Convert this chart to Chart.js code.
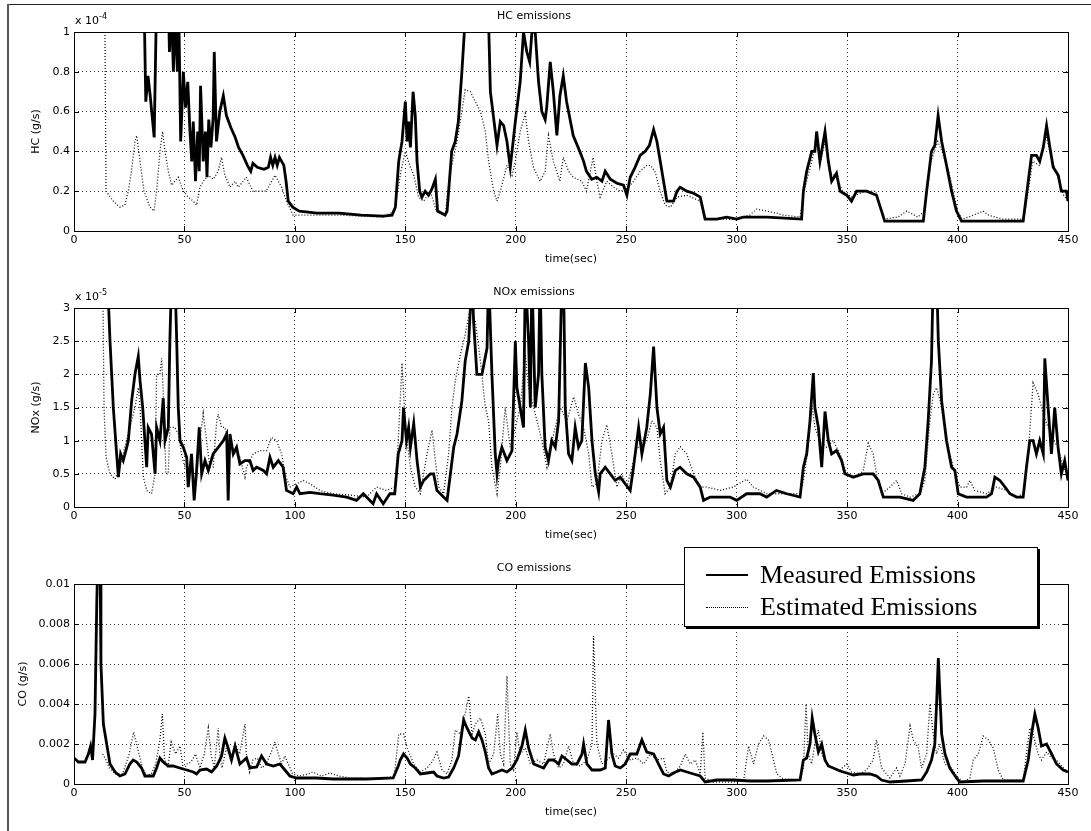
<!DOCTYPE html>
<html><head><meta charset="utf-8">
<script src="https://cdn.jsdelivr.net/npm/chart.js@4"></script>
<style>
html,body{margin:0;padding:0;background:#fff;}
body{width:1091px;height:831px;position:relative;overflow:hidden;font-family:"DejaVu Sans",Arial,sans-serif;}
canvas{position:absolute;left:0;}
.exp{position:absolute;left:75px;font-size:11px;line-height:13px;color:#000;white-space:nowrap;}
.exp sup{font-size:8px;position:relative;top:-5px;vertical-align:baseline;line-height:0;}
#frameTop{position:absolute;left:7px;right:0;top:4px;height:1px;background:#222;}
#frameLeft{position:absolute;left:7px;top:4px;width:2px;bottom:0;background:#555;}
#legend{position:absolute;left:684px;top:547px;width:352px;height:78px;border:1px solid #000;box-shadow:2px 2px 0 #000;background:#fff;font-family:"Liberation Serif","Times New Roman",serif;font-size:26px;line-height:26px;color:#000;}
#legend .txt{position:absolute;left:75px;white-space:nowrap;}
#legend .ln{position:absolute;left:21px;width:42px;height:0;}
</style></head><body>
<div id="frameTop"></div><div id="frameLeft"></div>
<canvas id="c1" width="1091" height="266" style="top:0px"></canvas>
<canvas id="c2" width="1091" height="266" style="top:276px"></canvas>
<canvas id="c3" width="1091" height="267" style="top:552px"></canvas>
<div class="exp" style="top:14px">x 10<sup>-4</sup></div>
<div class="exp" style="top:290px">x 10<sup>-5</sup></div>
<div id="legend">
  <div class="ln" style="top:26px;border-top:2px solid #000;"></div>
  <div class="txt" style="top:14px">Measured Emissions</div>
  <div class="ln" style="top:59px;border-top:1px dotted #000;"></div>
  <div class="txt" style="top:46px">Estimated Emissions</div>
</div>
<script>
// time axis ticks (sec)
const timeTicks = [0, 50, 100, 150, 200, 250, 300, 350, 400, 450];
const seriesNames = ['Measured Emissions', 'Estimated Emissions'];

// HC emissions, values in units of 1e-4 g/s : [time, value]
const hcMeasured = [[31.5,1.3],[32.5,0.65],[33.5,0.78],[34.5,0.68],[36.3,0.47],[37.2,1.05],[38.6,1.02],[39.5,1.3],[42.7,1.2],[43.2,0.9],[44.2,1.1],[45,0.8],[45.8,1.1],[46.8,0.8],[47.5,1.05],[48.3,0.45],[49.5,0.8],[50.5,0.62],[51.5,0.75],[52.5,0.5],[53.3,0.35],[54,0.55],[55,0.25],[56,0.5],[56.7,0.3],[57.3,0.73],[58.5,0.35],[59.5,0.5],[60.2,0.27],[61,0.56],[62,0.42],[63,0.57],[63.5,0.9],[64.5,0.45],[66,0.6],[67.6,0.68],[69,0.58],[71,0.52],[73,0.47],[74.5,0.42],[76.5,0.38],[78.5,0.33],[80,0.3],[81,0.34],[83,0.32],[86,0.31],[88,0.32],[89,0.37],[90,0.33],[91,0.37],[92,0.33],[93,0.37],[95,0.33],[96,0.25],[97,0.15],[99,0.12],[102,0.1],[110,0.09],[120,0.09],[130,0.08],[140,0.075],[144,0.08],[145.5,0.12],[147,0.35],[148.5,0.45],[150,0.65],[150.8,0.45],[151.5,0.55],[152.3,0.42],[153.5,0.7],[154.5,0.58],[155.3,0.35],[156.5,0.2],[157.5,0.17],[159,0.2],[160.5,0.18],[162,0.21],[163.6,0.26],[164.6,0.1],[168,0.08],[168.9,0.1],[171,0.4],[172.6,0.45],[174,0.55],[175.6,0.8],[177,1.05],[180,1.3],[185,1.3],[187.7,1.05],[188.5,0.7],[191.5,0.43],[193,0.55],[194.5,0.53],[196,0.45],[197.5,0.32],[199.8,0.55],[202,0.75],[203.5,1.0],[205,0.9],[206.3,0.85],[207.3,1.0],[208.8,1.0],[210.3,0.75],[211.8,0.6],[213.3,0.56],[214,0.62],[215.6,0.85],[217,0.7],[218.6,0.48],[220,0.68],[221.5,0.78],[223,0.65],[226,0.48],[229,0.4],[230.7,0.35],[232,0.3],[234.4,0.26],[236.7,0.27],[239,0.25],[240.5,0.3],[242.8,0.26],[245.8,0.24],[248.8,0.23],[250.3,0.18],[251.8,0.27],[254,0.32],[256.3,0.38],[258.6,0.4],[260.5,0.43],[262.4,0.51],[263.9,0.45],[265.4,0.35],[266.9,0.25],[268.4,0.15],[271.4,0.15],[273,0.2],[274.4,0.22],[277.4,0.2],[280.5,0.19],[283.5,0.17],[285.7,0.06],[291,0.06],[295.5,0.07],[300,0.06],[303,0.07],[313.7,0.07],[329.4,0.06],[330.2,0.2],[331.7,0.3],[334,0.4],[335.4,0.4],[336.2,0.5],[337.7,0.35],[340,0.5],[341.5,0.35],[343,0.25],[345.2,0.29],[346.8,0.2],[349.8,0.18],[352,0.15],[354.3,0.2],[358.8,0.2],[363.3,0.18],[365.6,0.1],[367,0.05],[373.9,0.05],[384.5,0.05],[386,0.2],[388.2,0.4],[389.7,0.43],[391.2,0.58],[392.8,0.45],[395,0.33],[397.3,0.2],[399.5,0.1],[401.8,0.05],[407,0.05],[419,0.05],[429.7,0.05],[432,0.25],[433.5,0.38],[435.7,0.38],[437.2,0.35],[438.8,0.42],[440.3,0.53],[441.8,0.42],[443.3,0.32],[445.6,0.28],[447,0.2],[449.3,0.2],[450,0.15]];
const hcEstimated = [[14,1.0],[14.5,0.2],[17.8,0.15],[20.8,0.12],[23,0.13],[24.6,0.2],[26,0.3],[27.6,0.45],[28.4,0.48],[29.9,0.35],[31.7,0.2],[34.4,0.12],[36.2,0.1],[37.4,0.2],[38.9,0.4],[40.1,0.5],[41.2,0.4],[42.7,0.3],[44.2,0.23],[45.7,0.25],[47.2,0.27],[49.5,0.2],[51.7,0.17],[54,0.15],[55.5,0.13],[57,0.22],[58.5,0.25],[60.8,0.28],[63,0.26],[65.3,0.3],[66.8,0.37],[68.3,0.28],[70.6,0.22],[72.9,0.25],[74.4,0.22],[78,0.27],[81,0.2],[87,0.2],[91,0.28],[94,0.22],[96.2,0.15],[99.2,0.08],[102,0.08],[110,0.08],[120,0.08],[130,0.075],[140,0.07],[145,0.1],[148,0.3],[150,0.4],[152,0.33],[153.8,0.28],[156,0.17],[158.3,0.15],[161.3,0.2],[164,0.1],[168,0.08],[170.4,0.3],[173.4,0.45],[175.6,0.6],[177.1,0.71],[179.4,0.7],[181.7,0.65],[184,0.6],[186.2,0.5],[187.7,0.35],[190,0.2],[191.5,0.15],[193,0.2],[196,0.33],[198.3,0.28],[199.8,0.35],[202,0.5],[204.3,0.59],[205.8,0.45],[208,0.32],[211,0.25],[213.3,0.3],[214.8,0.48],[217,0.35],[220,0.25],[221.5,0.37],[223.9,0.3],[226,0.27],[229.9,0.25],[232,0.2],[235,0.37],[236.7,0.25],[238.2,0.17],[241.2,0.25],[244.3,0.22],[247.3,0.2],[250.3,0.21],[253.3,0.25],[256.3,0.3],[259.3,0.33],[260.9,0.33],[263,0.3],[265.4,0.2],[267.6,0.13],[270,0.12],[273,0.17],[277.4,0.18],[283.5,0.15],[285.7,0.06],[298.5,0.06],[306,0.08],[309,0.11],[313.7,0.1],[318,0.09],[321,0.08],[328.7,0.07],[330.5,0.2],[334,0.35],[336,0.45],[338,0.35],[340,0.45],[342,0.3],[345,0.27],[348,0.2],[352,0.17],[358,0.2],[363,0.2],[365,0.12],[367,0.06],[373,0.07],[377,0.1],[382,0.07],[385,0.1],[388,0.35],[391,0.45],[393,0.4],[396,0.3],[400,0.1],[402,0.06],[405,0.07],[411.6,0.1],[414,0.08],[420,0.06],[430,0.06],[432,0.2],[434,0.35],[437,0.33],[440,0.48],[443,0.35],[446,0.25],[448,0.18],[450,0.15]];

// NOx emissions, values in units of 1e-5 g/s : [time, value]
const noxMeasured = [[15.1,3.5],[16.3,2.5],[17.8,1.5],[19.3,0.8],[20.1,0.45],[21.1,0.8],[22.3,0.7],[23.5,0.85],[24.6,1.0],[26.1,1.6],[27.6,2.0],[29.1,2.27],[29.9,1.9],[31.1,1.5],[32.1,1.0],[32.9,0.6],[33.6,1.2],[35.1,1.1],[36.7,0.5],[37.4,1.2],[38.9,1.0],[40.4,1.64],[41.2,1.0],[42.7,1.2],[43.4,2.5],[44.2,3.5],[45.7,3.5],[46.5,2.5],[47.2,1.5],[48,1.0],[49.5,0.9],[51,0.75],[51.7,0.3],[53.2,0.8],[54.4,0.1],[55.5,0.55],[56.7,1.2],[57.8,0.5],[59.3,0.7],[60.8,0.55],[63,0.8],[65.3,0.9],[67.6,1.0],[69.1,1.1],[69.8,0.1],[70.6,1.1],[72.1,0.8],[73.6,0.9],[75.1,0.65],[77.4,0.7],[79.6,0.7],[81.1,0.55],[82.7,0.6],[85.7,0.55],[87.2,0.5],[88.7,0.75],[90.2,0.6],[92.5,0.7],[94.7,0.6],[96.2,0.25],[99.2,0.2],[100.8,0.3],[102.3,0.2],[106.8,0.22],[111.3,0.2],[117.3,0.18],[123.4,0.15],[127.9,0.1],[131,0.2],[135.4,0.05],[137,0.2],[140,0.05],[143,0.2],[145.2,0.2],[146.8,0.8],[148.5,1.0],[149.2,1.5],[150.5,1.0],[151.5,1.2],[152.3,0.9],[153.8,1.26],[155.3,0.7],[156.8,0.3],[158.3,0.4],[159.8,0.45],[161.3,0.5],[162.8,0.5],[164.3,0.25],[167.3,0.15],[168.9,0.1],[170.4,0.5],[171.9,0.9],[173.4,1.1],[175.6,1.6],[177.1,2.2],[178.7,2.5],[180.2,3.5],[180.9,2.8],[182.4,2.0],[184.7,2.0],[187,2.4],[187.7,3.5],[189.2,2.0],[190.7,0.8],[191.5,0.5],[192.2,0.7],[193.7,0.9],[196,0.7],[198.3,0.85],[199.8,2.5],[200.5,1.8],[202,1.5],[203.5,1.2],[204.3,3.5],[205.8,2.5],[206.6,1.5],[207.3,3.5],[208.8,1.5],[210.3,2.0],[211,3.5],[211.8,2.0],[213.3,0.9],[214.8,0.7],[216.3,1.0],[217.9,0.9],[219.4,1.3],[220.9,3.5],[221.6,3.5],[222.4,1.5],[223.9,0.8],[225.4,0.7],[226.9,1.2],[228.4,0.9],[229.9,1.0],[231.5,2.17],[233,1.8],[234.5,1.0],[236,0.5],[237.5,0.23],[238.2,0.5],[240.5,0.6],[242.8,0.5],[245,0.4],[247.3,0.45],[249.5,0.35],[251.8,0.25],[253.3,0.6],[255.6,1.2],[257.1,0.8],[259.3,1.2],[260.9,1.7],[262.4,2.42],[263.9,1.5],[265.4,1.1],[266.9,1.2],[268.4,0.4],[270,0.3],[272.2,0.55],[274.4,0.6],[277.4,0.5],[280.5,0.45],[283.5,0.3],[285,0.1],[288,0.15],[292.5,0.15],[297,0.15],[300,0.1],[304.5,0.2],[310.5,0.2],[313.6,0.15],[318,0.25],[322.7,0.2],[328.7,0.15],[330.2,0.6],[331.7,0.8],[333.2,1.3],[334.7,2.02],[335.4,1.5],[337,1.2],[338.5,0.6],[340,1.44],[341.5,1.0],[343,0.8],[345.2,0.85],[347.5,0.7],[349,0.5],[352.8,0.45],[357.3,0.5],[361.8,0.5],[364.1,0.4],[366.4,0.15],[373.9,0.15],[379.9,0.1],[382.9,0.2],[385.2,0.6],[386.7,1.3],[388.2,2.2],[389,3.5],[390.5,3.5],[391.3,2.5],[392.8,1.6],[395,1.0],[397.3,0.6],[398.8,0.55],[400.3,0.2],[404,0.15],[408.6,0.15],[413.1,0.15],[415.4,0.2],[416.9,0.45],[419.2,0.4],[421.5,0.3],[423.7,0.2],[426.7,0.15],[429.7,0.15],[431.2,0.6],[432.7,1.0],[434.2,1.0],[435.7,0.8],[437.2,1.0],[438.8,0.8],[439.5,2.24],[441,1.5],[442.5,0.8],[444,1.5],[445.5,0.9],[447,0.5],[448.5,0.7],[450,0.4]];
const noxEstimated = [[13,3.5],[13.6,1.5],[14.5,0.75],[16.3,0.5],[18.6,0.42],[20.8,0.6],[23,0.9],[25.3,1.2],[27.6,1.5],[29.1,1.8],[29.9,1.5],[31.4,0.45],[32.9,0.25],[35.1,0.2],[36.7,0.5],[37.4,2.0],[38.9,2.0],[39.7,2.24],[40.7,1.5],[41.6,0.5],[42.7,0.5],[43.4,1.2],[45.7,1.2],[47.2,1.1],[48.7,0.8],[50.2,0.6],[51.7,0.55],[53.2,0.5],[55.5,0.45],[57,1.0],[58.5,1.41],[60,1.0],[61.5,0.6],[63,0.6],[64.6,1.3],[65.3,1.4],[66.8,1.2],[68.3,1.2],[70.6,0.9],[72.9,0.8],[75.1,0.75],[77.4,0.45],[78.1,0.6],[81.1,0.8],[84.2,0.85],[87.2,0.85],[89.4,1.05],[91.7,1.0],[94,0.8],[95.5,0.5],[97.7,0.3],[100.8,0.35],[103.8,0.4],[106.8,0.35],[111.3,0.25],[117.3,0.2],[124.9,0.18],[132.4,0.15],[137,0.3],[141.5,0.25],[145.2,0.3],[146.8,1.0],[148.5,2.17],[150,1.2],[152.3,0.6],[154.5,0.3],[156.8,0.2],[158.3,0.5],[159.8,0.8],[162.1,1.16],[163.6,0.7],[165.1,0.3],[167.3,0.2],[169.6,0.8],[171.1,1.5],[172.6,1.9],[174.9,2.3],[177.1,2.6],[179.4,3.0],[181.7,2.8],[184,2.2],[186.2,1.5],[187.7,1.3],[189.2,0.6],[191.5,0.2],[193,0.6],[195.2,1.5],[197.5,0.9],[199.8,1.2],[202,1.5],[204.3,2.3],[205.8,1.8],[207.3,1.6],[209.6,1.3],[211.8,1.0],[214.1,0.6],[216.4,1.0],[218.6,1.3],[220.1,1.5],[223.2,1.3],[226.2,1.66],[228.4,1.4],[230.7,1.2],[233,0.8],[234.5,0.3],[236.7,0.35],[239,1.0],[241.2,1.24],[243.5,0.8],[245.8,0.3],[248,0.5],[250.3,0.3],[252.6,0.6],[254.9,0.9],[257.1,0.9],[259.3,1.0],[261.6,1.3],[263.9,1.2],[265.4,0.7],[267.6,0.2],[270,0.3],[272.2,0.8],[274.5,0.91],[277.4,0.8],[280.5,0.5],[283.5,0.3],[286.5,0.3],[292.5,0.25],[298.5,0.3],[304.5,0.42],[307.6,0.3],[313.7,0.2],[321.2,0.2],[328.7,0.2],[330.2,0.4],[332.4,0.9],[333.9,1.6],[335.4,1.2],[337.7,1.0],[340.7,0.9],[343.7,1.0],[346.8,0.8],[349.8,0.5],[354.3,0.45],[357.3,0.55],[359.6,0.96],[361.8,0.8],[363.3,0.5],[365.6,0.2],[369.4,0.3],[372.4,0.4],[374.7,0.2],[378.4,0.15],[383,0.2],[385.2,0.4],[387.5,1.3],[389,1.7],[390.5,1.8],[392.1,1.6],[394.3,1.2],[396.5,0.8],[398.8,0.5],[401.1,0.3],[404.1,0.3],[405.6,0.4],[407.8,0.25],[413.1,0.2],[417.6,0.3],[422.2,0.25],[426.7,0.15],[429.7,0.2],[432,0.8],[434.2,1.87],[436.5,1.7],[438.8,1.4],[441,1.2],[443.3,1.0],[445.6,0.9],[447.8,0.6],[450,0.5]];

// CO emissions, values in g/s : [time, value]
const coMeasured = [[0,0.0013],[2,0.0011],[5,0.0011],[6.5,0.0015],[7.5,0.0019],[8.4,0.0012],[9.5,0.0035],[10.3,0.009],[10.7,0.011],[11.8,0.011],[12.2,0.006],[13.3,0.003],[14.8,0.002],[16.3,0.001],[18.6,0.0006],[20.8,0.0004],[23.1,0.0005],[25.3,0.001],[26.8,0.0012],[28.4,0.0011],[30.6,0.0008],[32.1,0.0004],[35.9,0.0004],[37.4,0.0008],[38.9,0.0013],[40.4,0.0011],[42.7,0.0009],[44.9,0.0009],[47.9,0.0008],[51,0.0007],[54,0.0006],[55.5,0.0005],[57,0.0007],[60,0.00075],[62.3,0.0006],[64.6,0.0009],[66.8,0.0014],[68.3,0.0023],[69.8,0.0018],[71.3,0.0012],[72.9,0.0019],[75.1,0.001],[78.1,0.0013],[79.6,0.0008],[82.7,0.00085],[84.9,0.0014],[87.2,0.001],[90.2,0.0009],[93.2,0.001],[95.5,0.0007],[97.7,0.0004],[100.8,0.0003],[109.8,0.0003],[117.3,0.00025],[132.4,0.00025],[144.5,0.0003],[146.8,0.0009],[147.7,0.0012],[149.2,0.0015],[150.8,0.0013],[152.3,0.001],[154.5,0.0008],[156.8,0.0005],[159.8,0.00055],[162.8,0.0006],[164.3,0.0004],[167.3,0.0003],[169.6,0.00035],[171.9,0.0008],[174.1,0.0014],[176.4,0.0032],[177.9,0.0028],[180.2,0.0023],[181.7,0.0022],[183.2,0.0026],[184.7,0.0022],[186.2,0.0016],[187.7,0.0008],[189.2,0.0005],[191.5,0.0006],[193.7,0.0007],[196,0.0006],[198.3,0.0008],[200.5,0.0012],[202.8,0.0019],[204.3,0.0027],[205.8,0.0018],[208.1,0.001],[210.3,0.0009],[212.6,0.0008],[214.9,0.0012],[217.1,0.0012],[219.4,0.001],[220.9,0.0014],[223.2,0.0012],[225.4,0.001],[227.7,0.001],[230,0.0015],[230.7,0.002],[232.2,0.001],[234.5,0.0007],[238.2,0.0007],[240.5,0.0008],[242,0.0032],[243.5,0.0015],[245,0.0009],[247.3,0.0008],[249.5,0.001],[251.8,0.0015],[254.8,0.0015],[257.1,0.0022],[259.3,0.0016],[262.4,0.0015],[264.6,0.001],[266.9,0.0005],[269.2,0.0004],[271.4,0.00055],[274.5,0.0007],[277.5,0.0006],[280.5,0.0005],[283.5,0.0004],[285.7,0.0001],[291,0.0002],[298.6,0.0002],[306,0.00015],[313.6,0.00015],[328.7,0.0002],[330.2,0.0012],[331.7,0.0013],[333.2,0.002],[334.2,0.0033],[335.4,0.0025],[337,0.0016],[338.5,0.002],[340,0.0012],[341.5,0.0009],[343.7,0.0008],[346.8,0.00065],[349.8,0.00055],[352.8,0.00045],[355.8,0.0005],[360.3,0.0005],[363.3,0.0004],[365.6,0.0002],[369.4,0.0001],[376.9,0.00015],[383.7,0.0002],[386,0.0006],[388.2,0.0012],[389.7,0.002],[390.5,0.004],[391.3,0.0063],[392,0.0045],[392.8,0.0025],[394.3,0.0015],[396.5,0.0008],[399.5,0.0003],[401,0.0001],[411.6,0.00015],[419.2,0.00015],[429.7,0.00015],[432,0.0012],[433.5,0.0025],[435,0.0035],[436.5,0.0028],[438,0.0019],[440.3,0.002],[442.6,0.0015],[444.8,0.001],[447.8,0.0007],[450,0.0006]];
const coEstimated = [[13,0.0015],[14.5,0.0012],[16,0.0008],[19,0.0005],[22,0.0005],[25,0.0015],[27,0.0026],[29,0.0017],[31,0.0008],[33,0.0004],[35,0.0005],[37,0.001],[38.9,0.0022],[40,0.0035],[41,0.0012],[42.5,0.0008],[44,0.0021],[46,0.0015],[48,0.0019],[49.5,0.0007],[51,0.001],[53,0.0011],[55,0.0015],[57,0.0008],[59,0.0015],[60.8,0.0028],[62,0.0015],[63.5,0.0008],[65.3,0.0028],[66,0.0015],[67,0.0008],[69,0.0018],[71,0.0012],[73,0.002],[75,0.0015],[77.4,0.003],[78,0.0015],[79.5,0.0006],[81,0.0012],[83,0.0013],[85,0.0008],[87,0.001],[89,0.0015],[91,0.0021],[92.5,0.0015],[94,0.001],[95.5,0.0014],[97,0.001],[99,0.0005],[102,0.0004],[106,0.0005],[108,0.0006],[112,0.0004],[115.8,0.00055],[120,0.0004],[125,0.0003],[130,0.0003],[140,0.00025],[145,0.0004],[147,0.0025],[149.2,0.0025],[150.8,0.0018],[153.8,0.001],[156.8,0.0006],[159.8,0.0008],[162.1,0.0011],[164.3,0.0016],[166.6,0.0007],[168.9,0.0005],[171.1,0.0012],[172.6,0.0027],[174.9,0.0025],[177.1,0.0035],[178.7,0.0044],[180.2,0.0025],[181.7,0.003],[184,0.0033],[186.2,0.0025],[187.7,0.001],[190,0.0015],[191.8,0.0035],[193,0.0015],[194.5,0.001],[196,0.0054],[197.5,0.001],[199,0.0007],[200.5,0.0026],[202,0.0015],[204.3,0.0018],[206.6,0.001],[209.6,0.0012],[212.6,0.001],[215.6,0.0025],[217.1,0.0015],[219.4,0.0008],[221.6,0.001],[223.9,0.0019],[226.2,0.001],[229.2,0.0009],[232.2,0.0012],[234.5,0.002],[235.2,0.0074],[236.7,0.002],[239,0.001],[241.2,0.0012],[244.3,0.0015],[246.5,0.0013],[248.8,0.0017],[251.8,0.0012],[254.8,0.0013],[257.9,0.001],[260.9,0.0015],[263.9,0.0012],[266.9,0.0013],[268.4,0.0006],[271.4,0.0005],[274.5,0.0009],[276.7,0.0015],[279,0.001],[281.3,0.0012],[283.5,0.0005],[284.7,0.0026],[285.7,0.0003],[289.5,0.0001],[298.6,0.0001],[303.2,0.0002],[305.4,0.0019],[307.6,0.001],[309.9,0.002],[312.2,0.0024],[314.4,0.0022],[316,0.0015],[318.2,0.0005],[321.2,0.00025],[328.7,0.0002],[330.2,0.0008],[331.4,0.004],[332.4,0.0015],[333.9,0.001],[335.4,0.002],[337,0.0027],[338.5,0.0015],[340.7,0.001],[343.7,0.0008],[346.8,0.0007],[349.8,0.001],[352,0.0006],[355.8,0.0005],[358.8,0.0007],[361.8,0.0012],[363.3,0.0022],[365.6,0.0008],[369.4,0.0003],[372.4,0.0008],[373.9,0.0004],[376.2,0.001],[378.5,0.0029],[380,0.0022],[382.2,0.0018],[383.7,0.0008],[386,0.0015],[387.5,0.004],[389,0.0025],[390.5,0.0015],[392,0.002],[394.3,0.001],[397.3,0.0008],[399.5,0.0004],[402.6,0.0001],[405.6,0.0003],[407.1,0.0012],[409.4,0.0015],[411.6,0.0024],[413.9,0.0022],[416.2,0.0018],[418.4,0.0007],[420.7,0.0002],[429.7,0.0002],[431.2,0.0015],[432.7,0.0028],[434.2,0.0025],[436.5,0.0015],[438,0.0012],[440.3,0.0016],[442.6,0.0013],[444.8,0.0012],[447.1,0.0009],[450,0.0006]];

// y axis tick labels per panel
const hcTicks = [0, 0.2, 0.4, 0.6, 0.8, 1];
const noxTicks = [0, 0.5, 1, 1.5, 2, 2.5, 3];
const coTicks = [0, 0.002, 0.004, 0.006, 0.008, 0.01];

const FONT = '"DejaVu Sans", Arial, sans-serif';
const fmt = v => String(Number(Number(v).toPrecision(8)));

const framePlugin = {
  id: 'matlabFrame',
  afterDatasetsDraw(chart) {
    const {ctx, chartArea: a, scales} = chart;
    ctx.save();
    ctx.strokeStyle = '#000';
    ctx.lineWidth = 1;
    ctx.strokeRect(Math.round(a.left) + 0.5, Math.round(a.top) + 0.5, Math.round(a.right - a.left), Math.round(a.bottom - a.top));
    ctx.beginPath();
    scales.x.ticks.forEach(t => {
      const px = Math.round(scales.x.getPixelForValue(t.value)) + 0.5;
      ctx.moveTo(px, a.bottom); ctx.lineTo(px, a.bottom - 5);
      ctx.moveTo(px, a.top); ctx.lineTo(px, a.top + 5);
    });
    scales.y.ticks.forEach(t => {
      const py = Math.round(scales.y.getPixelForValue(t.value)) + 0.5;
      ctx.moveTo(a.left, py); ctx.lineTo(a.left + 5, py);
      ctx.moveTo(a.right, py); ctx.lineTo(a.right - 5, py);
    });
    ctx.stroke();
    ctx.restore();
  }
};

function makePanel(id, title, yLabel, yTicks, measured, estimated, yTitlePad) {
  const yMax = yTicks[yTicks.length - 1];
  const gridColor = (ctx) => {
    const v = ctx.tick ? ctx.tick.value : null;
    return (v === null || Math.abs(v) < 1e-12 || Math.abs(v - ctx.scale.max) < 1e-12) ? 'rgba(0,0,0,0)' : '#333';
  };
  new Chart(document.getElementById(id), {
    type: 'line',
    data: {
      datasets: [
        {label: seriesNames[1], data: estimated.map(p => ({x: p[0], y: p[1]})), borderColor: '#111', borderWidth: 1.3, borderDash: [1, 2], pointRadius: 0, tension: 0, fill: false, clip: 0},
        {label: seriesNames[0], data: measured.map(p => ({x: p[0], y: p[1]})), borderColor: '#000', borderWidth: 2.8, pointRadius: 0, tension: 0, fill: false, clip: 0}
      ]
    },
    options: {
      responsive: false,
      animation: false,
      devicePixelRatio: 1,
      events: [],
      layout: {padding: {left: 0, right: 23, top: 0, bottom: 0}},
      plugins: {
        legend: {display: false},
        tooltip: {enabled: false},
        title: {display: true, text: title, color: '#000', font: {family: FONT, size: 11, weight: 'normal', lineHeight: 1.2}, padding: {top: 10, bottom: 8.8}}
      },
      scales: {
        x: {
          type: 'linear', min: timeTicks[0], max: timeTicks[timeTicks.length - 1],
          afterBuildTicks: s => { s.ticks = timeTicks.map(v => ({value: v})); },
          ticks: {color: '#000', font: {family: FONT, size: 11}, padding: 3, maxRotation: 0, autoSkip: false, callback: fmt},
          grid: {color: gridColor, lineWidth: 1, drawTicks: false},
          border: {display: false, dash: [1, 3]},
          title: {display: true, text: 'time(sec)', color: '#000', font: {family: FONT, size: 11}, padding: 0},
          afterFit: s => { s.height = 35; }
        },
        y: {
          type: 'linear', min: 0, max: yMax,
          afterBuildTicks: s => { s.ticks = yTicks.map(v => ({value: v})); },
          ticks: {color: '#000', font: {family: FONT, size: 11}, padding: 4, autoSkip: false, callback: fmt},
          grid: {color: gridColor, lineWidth: 1, drawTicks: false},
          border: {display: false, dash: [1, 3]},
          title: {display: true, text: yLabel, color: '#000', font: {family: FONT, size: 11}, padding: {top: yTitlePad, bottom: 0}},
          afterFit: s => { s.width = 74; }
        }
      }
    },
    plugins: [framePlugin]
  });
}

makePanel('c1', 'HC emissions', 'HC (g/s)', hcTicks, hcMeasured, hcEstimated, 30);
makePanel('c2', 'NOx emissions', 'NOx (g/s)', noxTicks, noxMeasured, noxEstimated, 30);
makePanel('c3', 'CO emissions', 'CO (g/s)', coTicks, coMeasured, coEstimated, 17);
</script>
</body></html>
